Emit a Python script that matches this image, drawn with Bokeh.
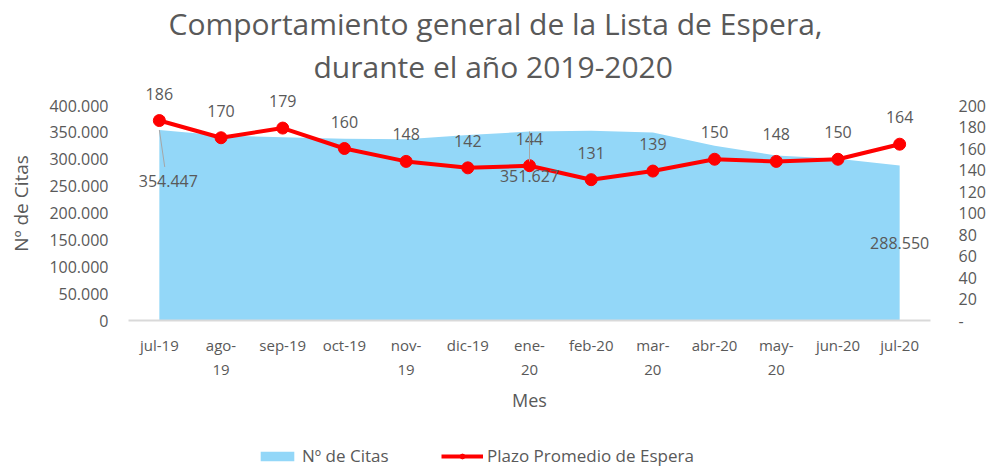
from bokeh.plotting import figure
from bokeh.layouts import column
from bokeh.models import (ColumnDataSource, Range1d, LinearAxis, FixedTicker,
                          Legend, LegendItem, Title)
from bokeh.embed import file_html
from bokeh.resources import INLINE
from bokeh.core.properties import value

# ---------------- data ----------------
meses = ["jul-19", "ago-19", "sep-19", "oct-19", "nov-19", "dic-19", "ene-20",
         "feb-20", "mar-20", "abr-20", "may-20", "jun-20", "jul-20"]
meses_etiqueta = ["jul-19", "ago-\n19", "sep-19", "oct-19", "nov-\n19", "dic-19",
                  "ene-\n20", "feb-20", "mar-\n20", "abr-20", "may-\n20",
                  "jun-20", "jul-20"]
citas = [354447, 344000, 341000, 338000, 337000, 345000, 351627,
         353000, 350000, 325000, 307000, 301000, 288550]
plazo = [186, 170, 179, 160, 148, 142, 144, 131, 139, 150, 148, 150, 164]
citas_ticks = [0, 50000, 100000, 150000, 200000, 250000, 300000, 350000, 400000]
plazo_ticks = [0, 20, 40, 60, 80, 100, 120, 140, 160, 180, 200]
citas_con_etiqueta = [0, 6, 12]
titulo = ["Comportamiento general de la Lista de Espera,", "durante el año 2019-2020"]
series = ["Nº de Citas", "Plazo Promedio de Espera"]

# ---------------- style ----------------
FONT = "Open Sans"
GREY = "#595959"
AREA = "#93D7F8"
RED = "#FF0000"

W, H = 988, 468
H_LEG = 28
H_MAIN = H - H_LEG
LEFT, RIGHT, TOP, BOTTOM = 128, 930, 86, 320
px_citas = 400000 / 215.0
px_plazo = 200 / 215.0

def miles(v):
    return f"{int(v):,}".replace(",", ".")

xs = list(range(len(meses)))
src = ColumnDataSource(dict(x=xs, citas=citas, plazo=plazo,
                            plazo_txt=[str(v) for v in plazo]))

p = figure(width=W, height=H_MAIN, output_backend="svg", toolbar_location=None,
           x_range=Range1d(-0.5, len(meses) - 0.5),
           y_range=Range1d(0, (BOTTOM - TOP) * px_citas),
           min_border_left=LEFT, min_border_right=W - RIGHT,
           min_border_top=TOP, min_border_bottom=H_MAIN - BOTTOM,
           background_fill_color="white", border_fill_color="white")
p.outline_line_color = None
p.grid.visible = False
p.extra_y_ranges = {"plazo": Range1d(0, (BOTTOM - TOP) * px_plazo)}

# title (two lines, each centred near the page centre)
def style_title(t, off):
    t.align = "left"
    t.text_font = FONT
    t.text_font_size = "30px"
    t.text_font_style = "normal"
    t.text_color = GREY
    t.offset = off
    t.standoff = 0

p.title.text = titulo[0]
style_title(p.title, 40)
t2 = Title(text=titulo[1])
style_title(t2, 185)
p.add_layout(t2, "above")

# area
p.varea(x="x", y1=0, y2="citas", source=src, fill_color=AREA)

# line
p.line(x="x", y="plazo", source=src, y_range_name="plazo",
       line_color=RED, line_width=4)
p.scatter(x="x", y="plazo", source=src, y_range_name="plazo",
          size=12, fill_color=RED, line_color=RED)

# line labels
p.text(x="x", y="plazo", text="plazo_txt", source=src, y_range_name="plazo",
       y_offset=-27, text_align="center", text_baseline="middle",
       text_font=value(FONT), text_font_size="16px", text_color=GREY)

# area labels (offsets in pixels)
off = {0: (9, 51), 6: (0, 44), 12: (0, 78)}
lab = dict(x=[], y=[], t=[], xo=[], yo=[])
lead = dict(x0=[], y0=[], x1=[], y1=[])
for i in citas_con_etiqueta:
    dx, dy = off[i]
    lab["x"].append(i); lab["y"].append(citas[i]); lab["t"].append(miles(citas[i]))
    lab["xo"].append(dx); lab["yo"].append(dy)
    if i != len(meses) - 1:
        lead["x0"].append(i)
        lead["y0"].append(citas[i])
        lead["x1"].append(i + dx * 0.6 / 61.7)
        lead["y1"].append(citas[i] - (dy - 14) * px_citas)
p.segment(x0="x0", y0="y0", x1="x1", y1="y1", source=ColumnDataSource(lead),
          line_color="#A6A6A6", line_width=1)
p.text(x="x", y="y", text="t", x_offset="xo", y_offset="yo",
       source=ColumnDataSource(lab), text_align="center", text_baseline="middle",
       text_font=value(FONT), text_font_size="16px", text_color=GREY)

# axes
xa = p.xaxis[0]
xa.ticker = FixedTicker(ticks=xs)
xa.major_label_overrides = {i: s for i, s in enumerate(meses_etiqueta)}
xa.axis_line_color = "#D9D9D9"
xa.axis_line_width = 2
xa.major_tick_line_color = None
xa.minor_tick_line_color = None
xa.major_label_standoff = 8
xa.major_label_text_font = FONT
xa.major_label_text_font_size = "15px"
xa.major_label_text_color = GREY
xa.axis_label = "Mes"
xa.axis_label_text_font = FONT
xa.axis_label_text_font_size = "18px"
xa.axis_label_text_font_style = "normal"
xa.axis_label_text_color = GREY
xa.axis_label_standoff = 6

ya = p.yaxis[0]
ya.ticker = FixedTicker(ticks=citas_ticks)
ya.major_label_overrides = {v: miles(v) for v in citas_ticks}
ya.axis_line_color = None
ya.major_tick_line_color = None
ya.minor_tick_line_color = None
ya.major_label_standoff = 14
ya.major_label_text_font = FONT
ya.major_label_text_font_size = "16px"
ya.major_label_text_color = GREY
ya.axis_label = series[0]
ya.axis_label_text_font = FONT
ya.axis_label_text_font_size = "19px"
ya.axis_label_text_font_style = "normal"
ya.axis_label_text_color = GREY
ya.axis_label_standoff = 12

ra = LinearAxis(y_range_name="plazo", ticker=FixedTicker(ticks=plazo_ticks))
ra.major_label_overrides = {v: ("-" if v == 0 else str(v)) for v in plazo_ticks}
ra.axis_line_color = None
ra.major_tick_line_color = None
ra.minor_tick_line_color = None
ra.major_label_standoff = 22
ra.major_label_text_font = FONT
ra.major_label_text_font_size = "16px"
ra.major_label_text_color = GREY
p.add_layout(ra, "right")

# legend strip (own small figure so the legend is not clipped);
# its proxy renderers sit outside the strip's visible range
lg = figure(width=W, height=H_LEG, output_backend="svg", toolbar_location=None,
            x_range=Range1d(0, 1), y_range=Range1d(0, 1),
            x_axis_location=None, y_axis_location=None,
            min_border=0, background_fill_color="white", border_fill_color="white")
lg.outline_line_color = None
lg.grid.visible = False
proxy = ColumnDataSource(dict(x=[-3, -2], y=[-3, -3], y0=[-4, -4]))
r_area = lg.varea(x="x", y1="y0", y2="y", source=proxy, fill_color=AREA)
r_line = lg.line(x="x", y="y", source=proxy, line_color=RED, line_width=4)
r_mark = lg.scatter(x="x", y="y", source=proxy, size=11,
                    fill_color=RED, line_color=RED)
leg = Legend(items=[LegendItem(label=series[0], renderers=[r_area]),
                    LegendItem(label=series[1], renderers=[r_line, r_mark])],
             orientation="horizontal", location=(128, 1),
             glyph_width=42, glyph_height=12, label_height=16, label_width=139,
             label_text_font=FONT, label_text_font_size="17px",
             label_text_color=GREY, label_standoff=4, spacing=0,
             padding=2, margin=0, border_line_color=None,
             background_fill_alpha=0)
lg.add_layout(leg, "center")

page = column(p, lg, spacing=0)
open("out.html", "w").write(file_html(page, INLINE))
